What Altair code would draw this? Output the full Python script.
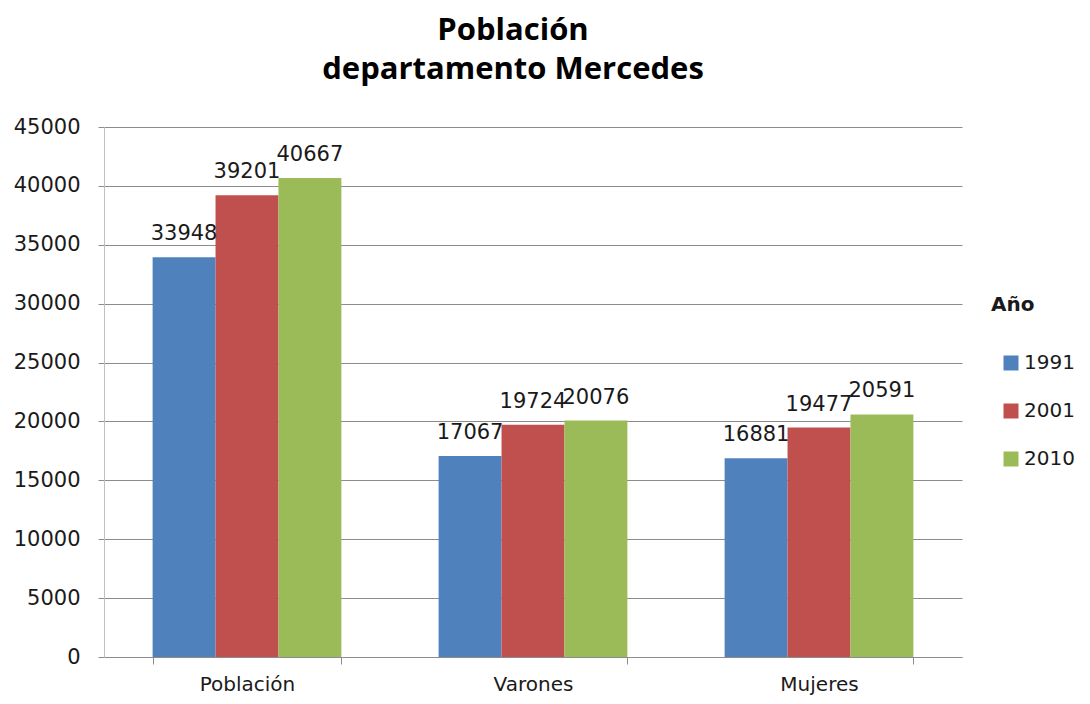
import altair as alt
import pandas as pd

categories = ["Población", "Varones", "Mujeres"]
years = ["1991", "2001", "2010"]
values_1991 = [33948, 17067, 16881]
values_2001 = [39201, 19724, 19477]
values_2010 = [40667, 20076, 20591]
colors = ["#4F81BD", "#C0504D", "#9BBB59"]
y_ticks = [0, 5000, 10000, 15000, 20000, 25000, 30000, 35000, 40000, 45000]
title_lines = ["Población", "departamento Mercedes"]

rows = []
for yr, vals in zip(years, [values_1991, values_2001, values_2010]):
    for c, v in zip(categories, vals):
        rows.append({"cat": c, "year": yr, "value": v})
df = pd.DataFrame(rows)

FONT = "DejaVu Sans"
TXT = "#1a1a1a"

x_enc = alt.X(
    "cat:N", sort=categories, title=None,
    scale=alt.Scale(paddingInner=0.34, paddingOuter=0.17),
    axis=alt.Axis(labelAngle=0, tickBand="extent", tickSize=7, ticks=True, grid=False,
                  domainColor="#8c8c8c", tickColor="#8c8c8c", labelFont=FONT,
                  labelFontSize=20, labelColor=TXT, labelPadding=10),
)
xoff = alt.XOffset("year:N", sort=years, scale=alt.Scale(paddingInner=0, paddingOuter=0))
y_enc = alt.Y(
    "value:Q", title=None,
    scale=alt.Scale(domain=[0, 45000], nice=False),
    axis=alt.Axis(values=y_ticks, format="d", tickSize=6, labelPadding=18,
                  labelFont=FONT, labelFontSize=21, labelColor=TXT,
                  gridColor="#8c8c8c", tickColor="#8c8c8c", domainColor="#c0c0c0"),
)

bars = alt.Chart(df).mark_bar().encode(
    x=x_enc, xOffset=xoff, y=y_enc,
    color=alt.Color(
        "year:N", sort=years, scale=alt.Scale(domain=years, range=colors),
        legend=alt.Legend(orient="none", legendX=887, legendY=168, title="Año",
                          titleFont=FONT, titleFontWeight="bold", titleFontSize=20,
                          titleColor=TXT, titlePadding=38, labelFont=FONT,
                          labelFontSize=20, labelColor=TXT, symbolType="square",
                          symbolSize=225, symbolOffset=10, labelOffset=3,
                          rowPadding=28, padding=0, symbolStrokeWidth=0),
    ),
)

labels = alt.Chart(df).mark_text(
    baseline="alphabetic", dy=-17, font=FONT, fontSize=21, color=TXT
).encode(x=x_enc, xOffset=xoff, y=y_enc, text=alt.Text("value:Q", format="d"))

chart = (bars + labels).properties(
    width=858, height=530,
    autosize=alt.AutoSizeParams(type="none"),
    padding={"left": 96, "top": 119, "right": 120, "bottom": 39},
    title=alt.TitleParams(text=title_lines, font="Open Sans", fontSize=31,
                          fontWeight="bold", anchor="middle", lineHeight=39,
                          color="black", offset=30, dx=-20),
).configure_view(stroke=None)

chart.save("out.html", embed_options={"renderer": "svg", "actions": False})
